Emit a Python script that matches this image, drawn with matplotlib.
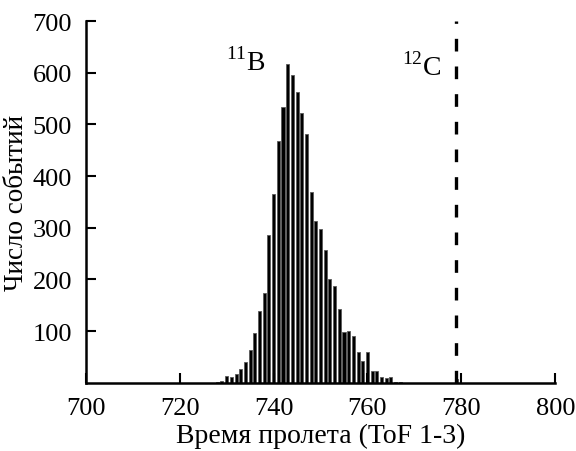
import numpy as np
import matplotlib
matplotlib.use('Agg')
import matplotlib.pyplot as plt

plt.rcParams['font.family'] = ['Liberation Serif', 'DejaVu Serif']
plt.rcParams['mathtext.fontset'] = 'custom'
plt.rcParams['mathtext.rm'] = 'Liberation Serif'

# time of flight bins (ToF 1-3) and event counts
tof = [728, 729, 730, 731, 732, 733, 734, 735, 736, 737, 738, 739, 740, 741,
       742, 743, 744, 745, 746, 747, 748, 749, 750, 751, 752, 753, 754, 755,
       756, 757, 758, 759, 760, 761, 762, 763, 764, 765, 766, 767, 779]
counts = [2, 3, 13, 11, 17, 27, 41, 64, 96, 138, 173, 286, 365, 468,
          533, 618, 596, 562, 523, 481, 370, 314, 297, 257, 201, 187, 143, 99,
          101, 90, 60, 43, 59, 23, 22, 12, 9, 12, 2, 2, 8]

carbon_tof = 778.8  # expected 12C position
x_ticks = [700, 720, 740, 760, 780, 800]
y_ticks = [100, 200, 300, 400, 500, 600, 700]

fig = plt.figure(figsize=(5.76, 4.52), dpi=100)
ax = fig.add_axes([0.149, 0.151, 0.815, 0.80])

ax.bar(tof, counts, width=0.65, color='black', edgecolor='0.35', linewidth=0.6)
ax.axvline(carbon_tof, color='black', lw=2.4, dashes=(3.8, 4.5))

ax.text(729.8, 607, r'$^{11}$B', fontsize=20)
ax.text(767.3, 597, r'$^{12}$C', fontsize=20)

ax.set_xlim(700, 800)
ax.set_ylim(0, 700)
ax.set_xticks(x_ticks)
ax.set_yticks(y_ticks)
ax.tick_params(direction='in', length=7, width=1.5, labelsize=19, pad=10)
ax.spines['top'].set_visible(False)
ax.spines['right'].set_visible(False)
for s in ['left', 'bottom']:
    ax.spines[s].set_linewidth(1.8)

ax.set_xlabel('Время пролета (ToF 1-3)', fontsize=20, labelpad=3)
ax.set_ylabel('Число событий', fontsize=19.5)
ax.yaxis.set_label_coords(-0.12, 0.5)

fig.savefig('out.png', dpi=100)
